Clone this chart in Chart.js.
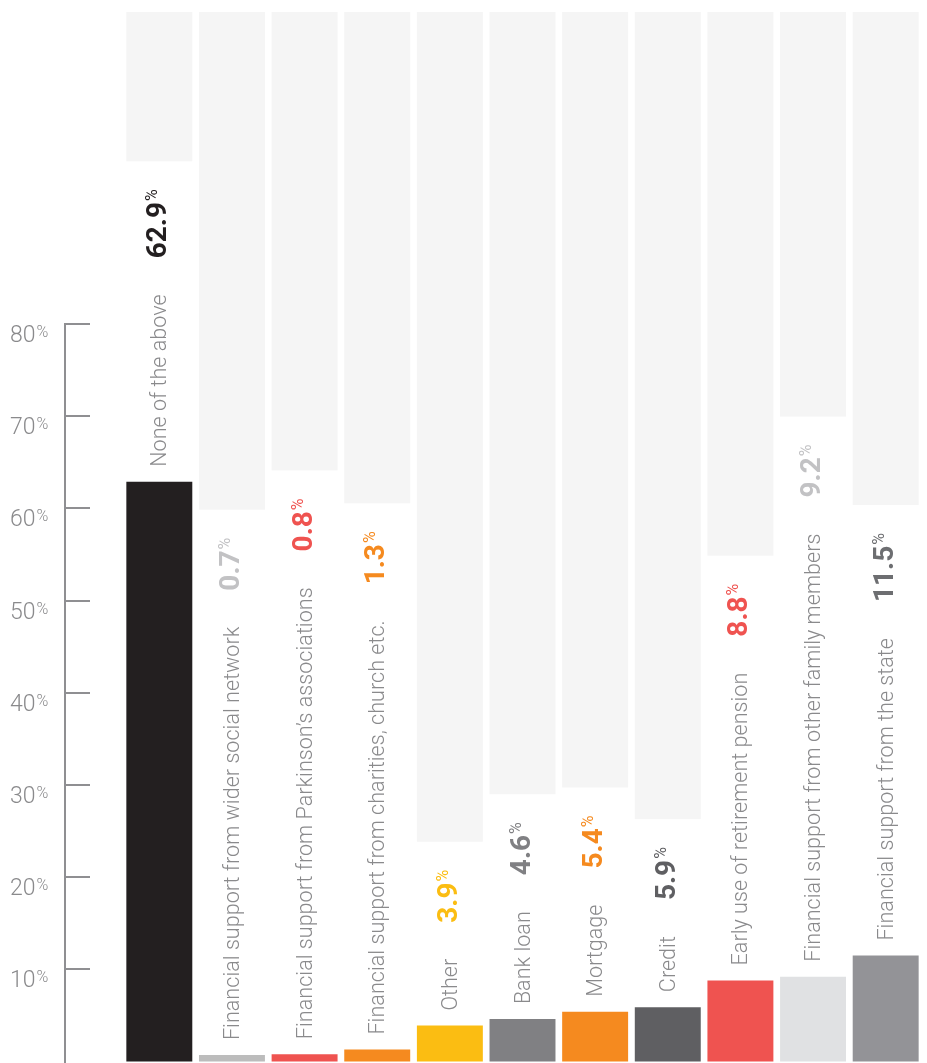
<!DOCTYPE html>
<html>
<head>
<meta charset="utf-8">
<script src="https://cdn.jsdelivr.net/npm/chart.js@4.4.1/dist/chart.umd.min.js"></script>
<style>
  html, body { margin:0; padding:0; background:#fff; overflow:hidden; }
  canvas { display:block; }
</style>
</head>
<body>
<canvas id="fundingChart" width="927" height="1063"></canvas>
<script>
// chart data
const categories = [
  'None of the above',
  'Financial support from wider social network',
  'Financial support from Parkinson\u2019s associations',
  'Financial support from charities, church etc.',
  'Other',
  'Bank loan',
  'Mortgage',
  'Credit',
  'Early use of retirement pension',
  'Financial support from other family members',
  'Financial support from the state'
];
const values = [62.9, 0.7, 0.8, 1.3, 3.9, 4.6, 5.4, 5.9, 8.8, 9.2, 11.5];
const yTicks = [10, 20, 30, 40, 50, 60, 70, 80];

// styling
const barColors = ['#231f20', '#bcbcbc', '#ef5350', '#f58a1f', '#fbbd12', '#808083',
                   '#f58a1f', '#5f5f62', '#ef5350', '#e0e1e3', '#939397'];
const valueColors = ['#231f20', '#c2c2c4', '#ef5350', '#f58a1f', '#fbbd12', '#808083',
                     '#f58a1f', '#5f5f62', '#ef5350', '#c2c2c4', '#6d6e71'];
const FONT = 'Roboto, "Liberation Sans", sans-serif';
const TEXT_GREY = '#8a8a8c';
const CAT_FONT = '300 21.6px ' + FONT;
const NUM_FONT = '700 28px ' + FONT;
const PCT_FONT = '400 16px ' + FONT;

// label layout: compute text positions from the bar tops
function layoutColumn(ctx, chart, i) {
  const el = chart.getDatasetMeta(0).data[i];
  ctx.font = CAT_FONT;
  const catLen = ctx.measureText(categories[i]).width;
  ctx.font = NUM_FONT;
  const numLen = ctx.measureText(values[i].toFixed(1)).width;
  ctx.font = PCT_FONT;
  const pctLen = ctx.measureText('%').width;
  const catStart = el.y - 15;
  const valStart = catStart - catLen - 36;
  const bgBottom = valStart - numLen - 1 - pctLen - 28;
  return { x: el.x, w: el.width, catStart, valStart, numLen, bgBottom };
}

const columnPlugin = {
  id: 'columns',
  beforeDatasetsDraw(chart) {
    const ctx = chart.ctx;
    const area = chart.chartArea;
    ctx.save();
    ctx.fillStyle = '#f5f5f5';
    values.forEach((v, i) => {
      const c = layoutColumn(ctx, chart, i);
      ctx.fillRect(c.x - c.w / 2, area.top, c.w, c.bgBottom - area.top);
    });
    ctx.restore();
  },
  afterDatasetsDraw(chart) {
    const ctx = chart.ctx;
    values.forEach((v, i) => {
      const c = layoutColumn(ctx, chart, i);
      const bx = c.x + 7;
      ctx.save();
      ctx.textAlign = 'left';
      ctx.textBaseline = 'alphabetic';

      // category name
      ctx.translate(bx, c.catStart);
      ctx.rotate(-Math.PI / 2);
      ctx.fillStyle = TEXT_GREY;
      ctx.font = CAT_FONT;
      ctx.fillText(categories[i], 0, 0);
      ctx.restore();

      // value with small percent sign
      ctx.save();
      ctx.translate(bx, c.valStart);
      ctx.rotate(-Math.PI / 2);
      ctx.fillStyle = valueColors[i];
      ctx.font = NUM_FONT;
      ctx.fillText(v.toFixed(1), 0, 0);
      ctx.font = PCT_FONT;
      ctx.fillText('%', c.numLen + 1, -9);
      ctx.restore();
    });
  }
};

const axisPlugin = {
  id: 'leftAxis',
  afterDraw(chart) {
    const ctx = chart.ctx;
    const y = chart.scales.y;
    const top = y.getPixelForValue(yTicks[yTicks.length - 1]);
    ctx.save();
    ctx.strokeStyle = '#8f8f92';
    ctx.lineWidth = 2;
    ctx.beginPath();
    ctx.moveTo(65, top);
    ctx.lineTo(65, chart.height);
    yTicks.forEach(t => {
      const py = Math.round(y.getPixelForValue(t));
      ctx.moveTo(64, py);
      ctx.lineTo(90, py);
    });
    ctx.stroke();

    ctx.fillStyle = TEXT_GREY;
    ctx.textAlign = 'left';
    ctx.textBaseline = 'alphabetic';
    yTicks.forEach(t => {
      const py = y.getPixelForValue(t);
      ctx.font = '300 23px ' + FONT;
      const w = ctx.measureText(String(t)).width;
      ctx.fillText(String(t), 10, py + 18);
      ctx.font = '300 16px ' + FONT;
      ctx.fillText('%', 10 + w + 1, py + 13);
    });
    ctx.restore();
  }
};

new Chart(document.getElementById('fundingChart'), {
  type: 'bar',
  data: {
    labels: categories,
    datasets: [{
      data: values,
      backgroundColor: barColors,
      borderWidth: 0,
      categoryPercentage: 1,
      barPercentage: 0.908
    }]
  },
  options: {
    responsive: false,
    animation: false,
    layout: { padding: { left: 123, right: 5, top: 12, bottom: 0 } },
    plugins: { legend: { display: false }, tooltip: { enabled: false } },
    scales: {
      x: { display: false },
      y: { display: false, min: -0.16, max: 113.86 }
    }
  },
  plugins: [columnPlugin, axisPlugin]
});
</script>
</body>
</html>
